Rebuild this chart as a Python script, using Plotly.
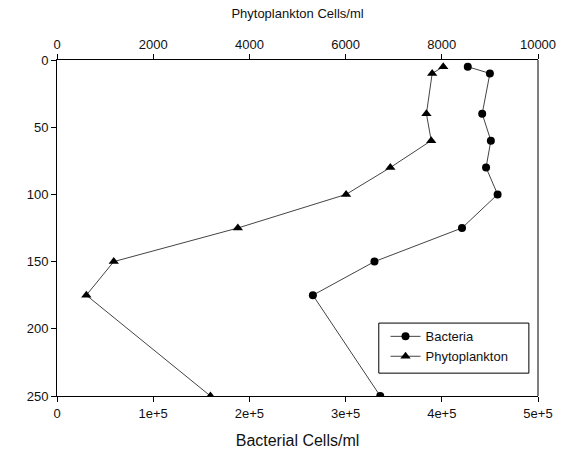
import plotly.graph_objects as go

depth_bact = [5, 10, 40, 60, 80, 100, 125, 150, 175, 250]
bacteria = [4.27e5, 4.50e5, 4.42e5, 4.51e5, 4.46e5, 4.58e5, 4.21e5, 3.30e5, 2.66e5, 3.36e5]

depth_phyto = [5, 10, 40, 60, 80, 100, 125, 150, 175, 250]
phyto = [8030, 7800, 7680, 7780, 6930, 6010, 3760, 1180, 610, 3190]

bottom_ticks = [0, 1e5, 2e5, 3e5, 4e5, 5e5]
bottom_labels = ["0", "1e+5", "2e+5", "3e+5", "4e+5", "5e+5"]
top_ticks = [0, 2000, 4000, 6000, 8000, 10000]
top_labels = ["0", "2000", "4000", "6000", "8000", "10000"]
depth_ticks = [0, 50, 100, 150, 200, 250]

font = "Liberation Sans, Arial, sans-serif"

fig = go.Figure()
fig.add_trace(go.Scatter(
    x=bacteria, y=depth_bact, mode="lines+markers", name="Bacteria",
    line=dict(color="#444444", width=1),
    marker=dict(symbol="circle", size=8, color="black"),
    xaxis="x", yaxis="y",
))
fig.add_trace(go.Scatter(
    x=phyto, y=depth_phyto, mode="lines+markers", name="Phytoplankton",
    line=dict(color="#444444", width=1),
    marker=dict(symbol="triangle-up", size=9, color="black"),
    xaxis="x2", yaxis="y",
))

axis_common = dict(
    showgrid=False, zeroline=False, showline=True, linecolor="black", linewidth=1,
    ticks="outside", ticklen=5, tickcolor="black", automargin=False,
    tickfont=dict(family=font, size=13, color="#111111"),
)

fig.update_layout(
    width=567, height=453,
    margin=dict(l=57, r=29, t=60, b=57),
    paper_bgcolor="white", plot_bgcolor="white",
    font=dict(family=font, color="black"),
    showlegend=True,
    legend=dict(
        x=0.683, y=0.222, xanchor="left", yanchor="top",
        borderwidth=0, bgcolor="rgba(0,0,0,0)",
        font=dict(family=font, size=13, color="#111111"),
        tracegroupgap=0, itemwidth=30,
    ),
    xaxis=dict(
        range=[0, 5e5], tickvals=bottom_ticks, ticktext=bottom_labels,
        title=dict(text="Bacterial Cells/ml", font=dict(family=font, size=16, color="#111111")),
        **axis_common,
    ),
    xaxis2=dict(
        range=[0, 10000], tickvals=top_ticks, ticktext=top_labels,
        overlaying="x", side="top",
        title=dict(text="Phytoplankton Cells/ml", font=dict(family=font, size=13, color="#111111")),
        **axis_common,
    ),
    yaxis=dict(
        range=[250, 0], tickvals=depth_ticks,
        **axis_common,
    ),
)

# right border line
fig.add_shape(type="line", xref="paper", yref="paper", x0=1, x1=1, y0=0, y1=1,
              line=dict(color="black", width=1))
# legend frame
fig.add_shape(type="rect", xref="paper", yref="paper", x0=0.669, x1=0.981, y0=0.068, y1=0.217,
              line=dict(color="black", width=1), fillcolor="white", layer="below")

fig.write_html("out.html")
